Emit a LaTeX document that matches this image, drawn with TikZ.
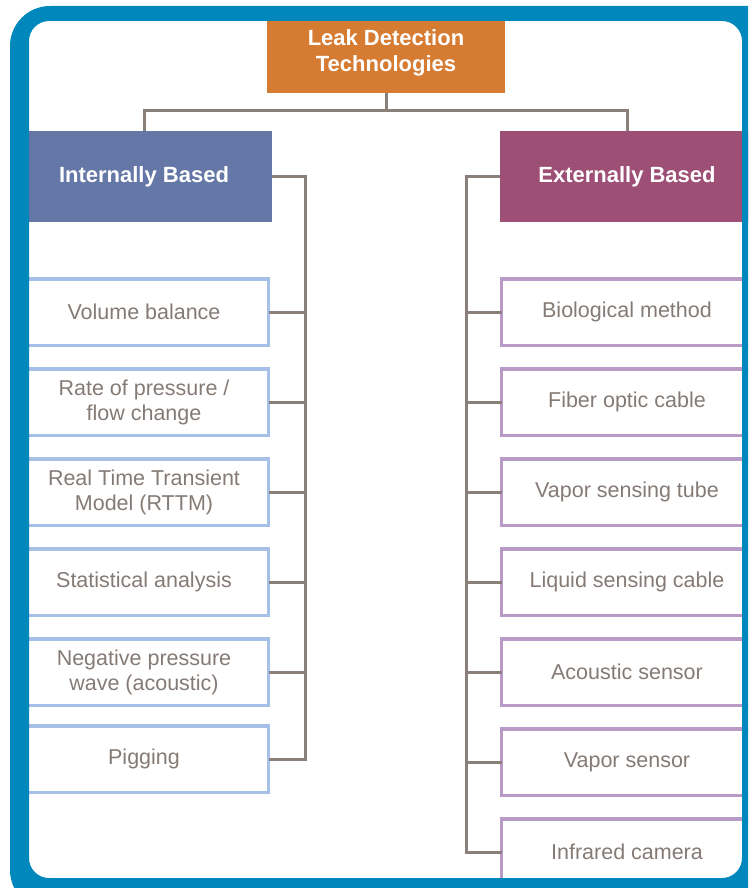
\documentclass[tikz,border=0pt]{standalone}
\usepackage{fontspec}
\setmainfont{Liberation Sans}
\usepackage{tikz}
\usetikzlibrary{positioning}

\definecolor{framecol}{RGB}{0,136,188}
\definecolor{rootcol}{RGB}{214,123,50}
\definecolor{intcol}{RGB}{101,119,166}
\definecolor{extcol}{RGB}{158,79,117}
\definecolor{intline}{RGB}{166,192,232}
\definecolor{extline}{RGB}{184,154,198}
\definecolor{linkcol}{RGB}{138,127,121}
\definecolor{textcol}{RGB}{133,123,118}

\begin{document}
\begin{tikzpicture}[x=1pt,y=1pt,node distance=23.5pt,
  head/.style={fill=#1,text=white,font=\fontsize{22}{26}\selectfont\bfseries,minimum height=91pt,inner sep=0pt,outer sep=0pt},
  item/.style={draw=#1,line width=3.5pt,fill=white,text=textcol,align=center,font=\fontsize{21.5}{25}\selectfont,minimum height=66.5pt,inner sep=0pt,outer sep=0pt},
  link/.style={draw=linkcol,line width=3pt}]
  \useasboundingbox (0,0) rectangle (748,-888);
  \clip (0,0) rectangle (748,-888);
  \fill[white] (0,0) rectangle (748,-888);

  \node [head=rootcol,minimum width=238pt,minimum height=80pt,align=center,font=\fontsize{22}{26}\selectfont\bfseries] (0) at (386,-53) {Leak Detection\\Technologies};
  \node [head=intcol,minimum width=256pt] (1) at (144,-176.5) {Internally Based};
  \node [head=extcol,minimum width=254pt] (2) at (627,-176.5) {Externally Based};

  \node [item=intline,minimum width=249pt,below=56.75pt of 1] (3) {Volume balance};
  \node [item=intline,minimum width=249pt,below=of 3] (4) {Rate of pressure /\\flow change};
  \node [item=intline,minimum width=249pt,below=of 4] (5) {Real Time Transient\\Model (RTTM)};
  \node [item=intline,minimum width=249pt,below=of 5] (6) {Statistical analysis};
  \node [item=intline,minimum width=249pt,below=of 6] (7) {Negative pressure\\wave (acoustic)};
  \node [item=intline,minimum width=249pt,below=20.5pt of 7] (8) {Pigging};

  \node [item=extline,minimum width=251pt,below=56.75pt of 2] (9) {Biological method};
  \node [item=extline,minimum width=251pt,below=of 9] (10) {Fiber optic cable};
  \node [item=extline,minimum width=251pt,below=of 10] (11) {Vapor sensing tube};
  \node [item=extline,minimum width=251pt,below=of 11] (12) {Liquid sensing cable};
  \node [item=extline,minimum width=251pt,below=of 12] (13) {Acoustic sensor};
  \node [item=extline,minimum width=251pt,below=of 13] (14) {Vapor sensor};
  \node [item=extline,minimum width=251pt,below=of 14] (15) {Infrared camera};

  \path[link] (0.south) -- ++(0,-18) -| (1.north);
  \path[link] (0.south) -- ++(0,-18) -| (2.north);

  \path[link] (1.east) -- ++(33,0) coordinate (lt) |- (8.east);
  \path[link] (3.east) -- (3.east -| lt);
  \path[link] (4.east) -- (4.east -| lt);
  \path[link] (5.east) -- (5.east -| lt);
  \path[link] (6.east) -- (6.east -| lt);
  \path[link] (7.east) -- (7.east -| lt);

  \path[link] (2.west) -- ++(-34,0) coordinate (rt) |- (15.west);
  \path[link] (9.west) -- (9.west -| rt);
  \path[link] (10.west) -- (10.west -| rt);
  \path[link] (11.west) -- (11.west -| rt);
  \path[link] (12.west) -- (12.west -| rt);
  \path[link] (13.west) -- (13.west -| rt);
  \path[link] (14.west) -- (14.west -| rt);

  % frame
  \fill[framecol,even odd rule] [rounded corners=40pt] (10,-6) rectangle (790,-910)
    [rounded corners=20pt] (29,-21) rectangle (742,-878);
\end{tikzpicture}
\end{document}
